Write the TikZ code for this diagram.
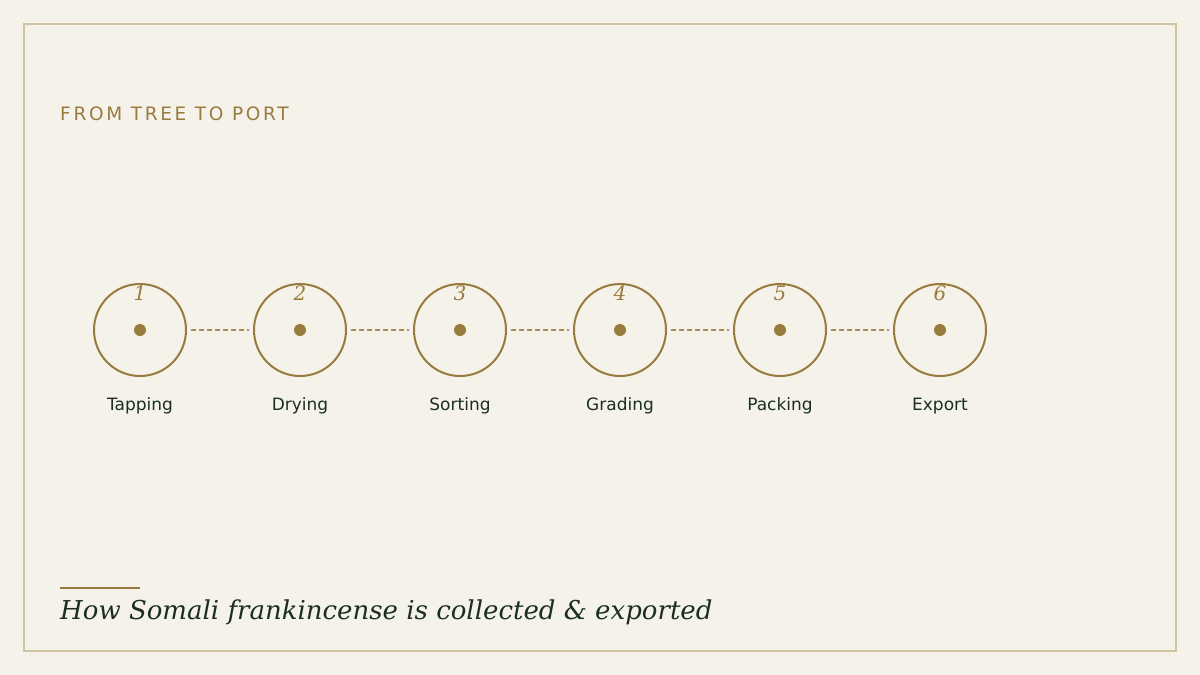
\documentclass[tikz,border=0pt]{standalone}
\usepackage{fontspec}
\setmainfont{DejaVu Serif}
\setsansfont{DejaVu Sans}
\usepackage{xcolor}
\definecolor{paper}{HTML}{F5F2EA}
\definecolor{frame}{HTML}{CFC3A2}
\definecolor{gold}{HTML}{9A7B3F}
\definecolor{ink}{HTML}{1B2D25}

\tikzset{
    stage/.style={circle, draw=gold, line width=2pt, minimum size=92pt, inner sep=0pt},
    core/.style={circle, fill=gold, minimum size=12pt, inner sep=0pt},
    num/.style={text=gold, font=\itshape\fontsize{20}{24}\selectfont, inner sep=0pt},
    lbl/.style={anchor=base, text=ink, font=\sffamily\fontsize{17}{20}\selectfont, inner sep=0pt},
    link/.style={draw=gold!85!paper, line width=1.4pt, dash pattern=on 5pt off 3pt}
}

\begin{document}
\begin{tikzpicture}[x=1pt, y=-1pt]
            \useasboundingbox (0,0) rectangle (1200,675);
            \fill[paper] (0,0) rectangle (1200,675);
            \draw[frame, line width=1.5pt] (24,24) rectangle (1176,651);

            % Heading
            \node[anchor=base west, inner sep=0pt, text=gold,
                  font=\sffamily\fontsize{18.5}{20}\selectfont\addfontfeature{LetterSpace=14.5}] (head) at (60,120.5) {FROM TREE TO PORT};

            % Nodes
            \node[stage] (1) at (140,330) {};
            \node[stage] (2) at (300,330) {};
            \node[stage] (3) at (460,330) {};
            \node[stage] (4) at (620,330) {};
            \node[stage] (5) at (780,330) {};
            \node[stage] (6) at (940,330) {};

            \node[core] at (1) {};
            \node[core] at (2) {};
            \node[core] at (3) {};
            \node[core] at (4) {};
            \node[core] at (5) {};
            \node[core] at (6) {};

            \node[num] (n1) at (140,293) {1};
            \node[num] (n2) at (300,293) {2};
            \node[num] (n3) at (460,293) {3};
            \node[num] (n4) at (620,293) {4};
            \node[num] (n5) at (780,293) {5};
            \node[num] (n6) at (940,293) {6};

            \node[lbl] (t1) at (140,410) {Tapping};
            \node[lbl] (t2) at (300,410) {Drying};
            \node[lbl] (t3) at (460,410) {Sorting};
            \node[lbl] (t4) at (620,410) {Grading};
            \node[lbl] (t5) at (780,410) {Packing};
            \node[lbl] (t6) at (940,410) {Export};

            % Edges
            \draw[link] ([xshift=4pt]1.east) -- ([xshift=-4pt]2.west);
            \draw[link] ([xshift=4pt]2.east) -- ([xshift=-4pt]3.west);
            \draw[link] ([xshift=4pt]3.east) -- ([xshift=-4pt]4.west);
            \draw[link] ([xshift=4pt]4.east) -- ([xshift=-4pt]5.west);
            \draw[link] ([xshift=4pt]5.east) -- ([xshift=-4pt]6.west);

            % Caption
            \coordinate (r1) at (60,588);
            \coordinate (r2) at (140,588);
            \draw[gold, line width=2pt] (r1) -- (r2);
            \node[anchor=base west, inner sep=0pt, text=ink,
                  font=\itshape\fontsize{26}{30}\selectfont] (cap) at (60,619) {How Somali frankincense is collected \& exported};

        \end{tikzpicture}
\end{document}
